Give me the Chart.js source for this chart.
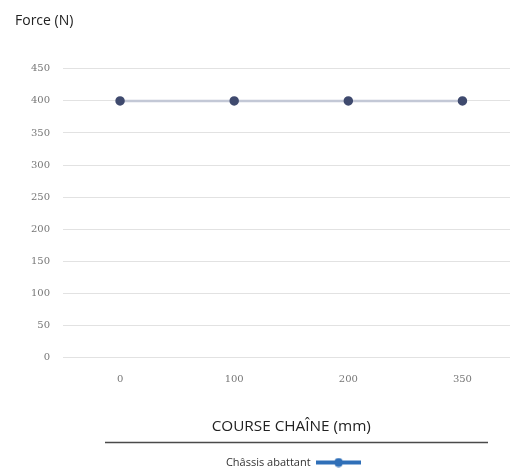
<!DOCTYPE html>
<html>
<head>
<meta charset="utf-8">
<script src="https://cdn.jsdelivr.net/npm/chart.js@4"></script>
<style>
  html, body { margin: 0; padding: 0; background: #fff; overflow: hidden; }
  #wrap { width: 526px; height: 468px; }
</style>
</head>
<body>
<div id="wrap"><canvas id="grafico" width="526" height="468"></canvas></div>
<script>
const courses = ['0', '100', '200', '350'];
const forces = [400, 400, 400, 400];
const ticksY = [0, 50, 100, 150, 200, 250, 300, 350, 400, 450];

// petit échantillon de légende : trait bleu avec un point au milieu
function echantillon() {
  const c = document.createElement('canvas');
  c.width = 45; c.height = 10;
  const g = c.getContext('2d');
  g.strokeStyle = '#2f6fb8';
  g.lineWidth = 4;
  g.beginPath(); g.moveTo(0, 5); g.lineTo(45, 5); g.stroke();
  g.fillStyle = '#2f6fb8';
  g.beginPath(); g.arc(22.5, 5, 4.5, 0, Math.PI * 2); g.fill();
  return c;
}

const dx = 23, dy = 10;
const traitNoir = {
  id: 'traitNoir',
  beforeDraw(chart) {
    const l = chart.legend;
    l.left += dx; l.right += dx; l.top += dy; l.bottom += dy;
  },
  afterDraw(chart) {
    const ctx = chart.ctx;
    ctx.save();
    ctx.strokeStyle = '#4a4a4a';
    ctx.lineWidth = 1.5;
    ctx.beginPath();
    ctx.moveTo(105, 442.5);
    ctx.lineTo(488, 442.5);
    ctx.stroke();
    ctx.restore();
    const l = chart.legend;
    l.left -= dx; l.right -= dx; l.top -= dy; l.bottom -= dy;
  }
};

const ctx = document.getElementById('grafico').getContext('2d');
new Chart(ctx, {
  type: 'line',
  data: {
    labels: courses,
    datasets: [{
      label: 'Châssis abattant',
      data: forces,
      borderColor: '#c3c8d6',
      borderWidth: 2.5,
      pointBackgroundColor: '#3f4a6e',
      pointBorderColor: '#3f4a6e',
      pointRadius: 3.5,
      tension: 0
    }]
  },
  options: {
    responsive: false,
    animation: false,
    layout: { padding: { left: 15, right: 0, top: 13, bottom: 0 } },
    plugins: {
      title: {
        display: true,
        text: 'Force (N)',
        align: 'start',
        color: '#222',
        font: { family: 'Open Sans', size: 14, weight: 'normal' },
        padding: { top: 0, bottom: 39 }
      },
      legend: {
        position: 'bottom',
        rtl: true,
        labels: {
          color: '#333',
          font: { family: 'Open Sans', size: 11 },
          usePointStyle: true,
          pointStyle: echantillon(),
          pointStyleWidth: 45,
          padding: 2
        }
      },
      tooltip: { enabled: false }
    },
    scales: {
      x: {
        offset: true,
        grid: { display: false },
        border: { display: false },
        ticks: { color: '#777', font: { family: 'DejaVu Serif', size: 10 }, padding: 8 },
        title: {
          display: true,
          text: 'COURSE CHAÎNE (mm)',
          color: '#222',
          font: { family: 'Open Sans', size: 15.3 },
          padding: { top: 24, bottom: 9 }
        }
      },
      y: {
        min: 0,
        max: 450,
        afterBuildTicks(scale) { scale.ticks = ticksY.map(v => ({ value: v })); },
        afterFit(scale) { scale.width = 48; },
        grid: { color: '#e2e2e2', drawTicks: false },
        border: { display: false },
        ticks: { color: '#777', font: { family: 'DejaVu Serif', size: 10 }, padding: 13 }
      }
    }
  },
  plugins: [traitNoir]
});
</script>
</body>
</html>
